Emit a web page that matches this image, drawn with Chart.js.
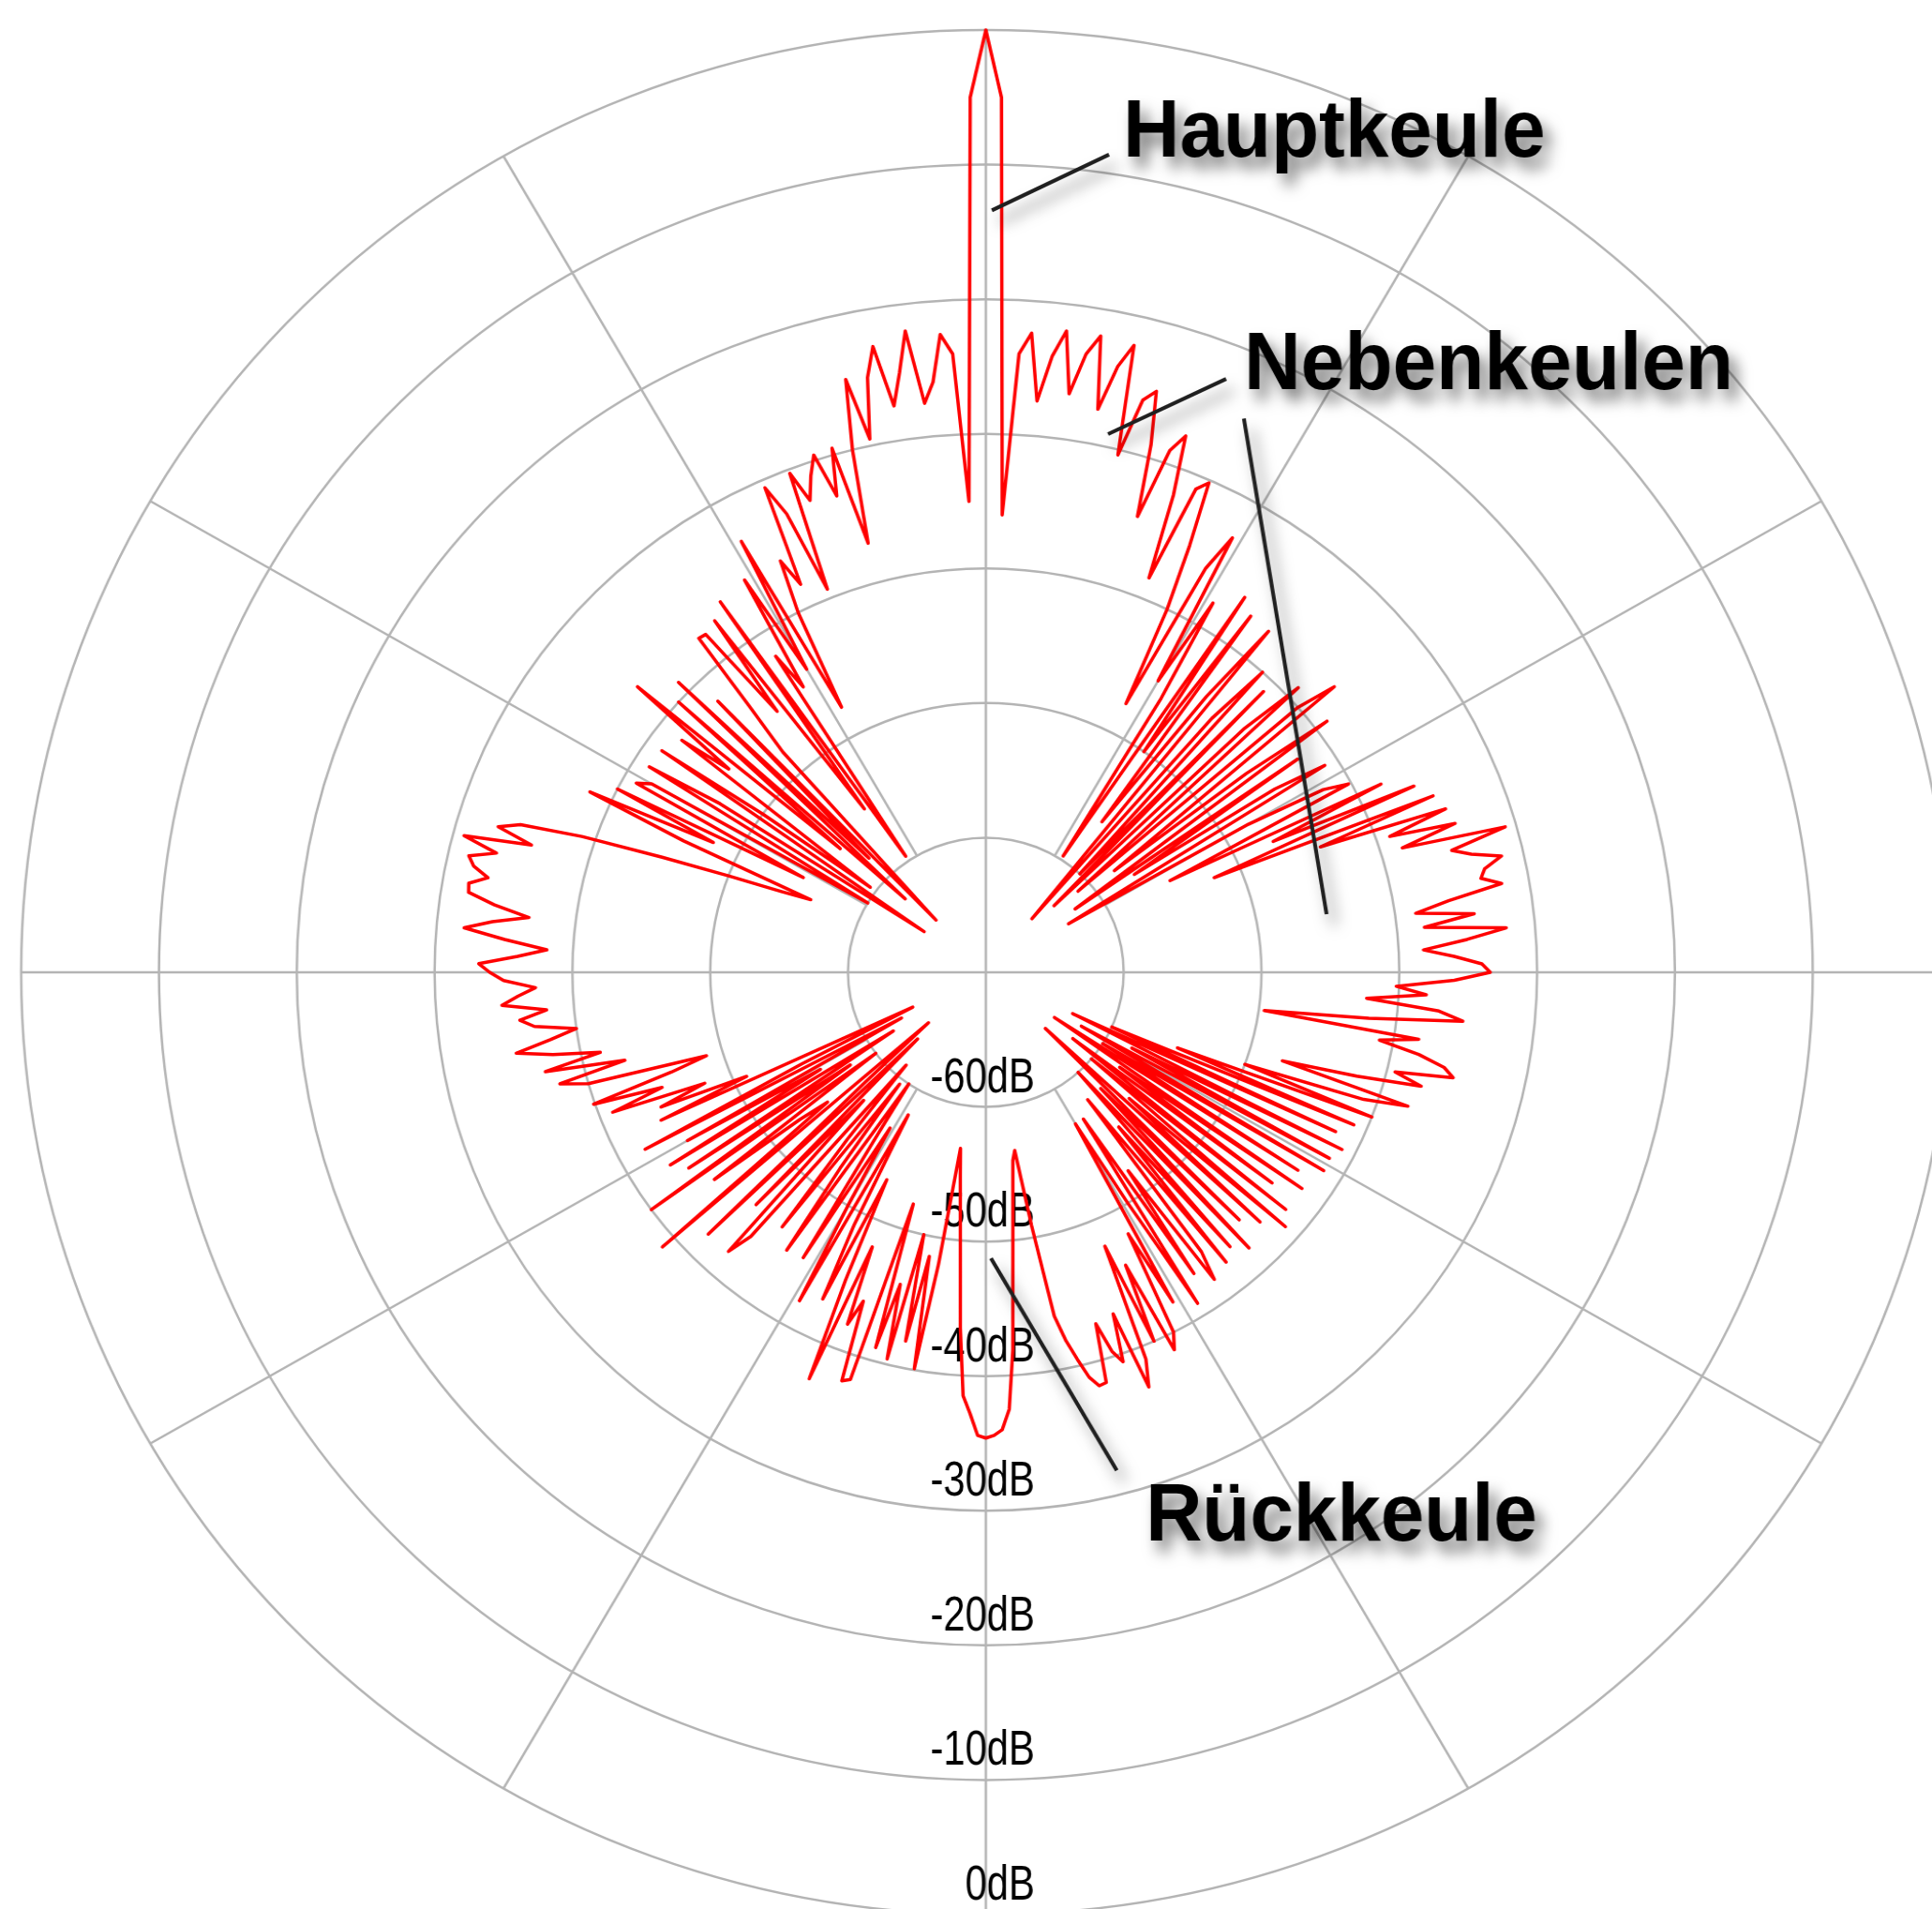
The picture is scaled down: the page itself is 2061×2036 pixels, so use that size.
<!DOCTYPE html>
<html>
<head>
<meta charset="utf-8">
<title>Richtdiagramm</title>
<script src="https://cdn.jsdelivr.net/npm/chart.js@4.4.0/dist/chart.umd.min.js"></script>
<style>
  html, body { margin: 0; padding: 0; background: #fff; overflow: hidden; }
  /* das Original ist leicht in die Breite gezogen */
  #box { position: absolute; left: 0; top: 0; width: 2100px; height: 2100px; transform: scaleX(1.024); transform-origin: 0 0; }
</style>
</head>
<body>
<div id="box"><canvas id="diagramm"></canvas></div>
<script>
// Pegel in dB, je ein Wert pro Grad, im Uhrzeigersinn ab oben
const gain000 = [0, -5, -36, -24, -22.4, -27.4, -24, -22, -26.6, -23.5,
  -22, -27.4, -24, -22.2, -30.4, -26, -25.1, -29, -34.4, -29,
  -27.6, -32, -38.4, -31, -30.2, -35, -40, -47.6, -36, -33.1];
const gain030 = [-45, -38, -46, -59.7, -36.4, -50, -37.3, -56, -44, -37.4,
  -64.8, -45, -40, -60, -41, -63, -44, -39, -61, -40,
  -37, -58, -46, -39, -62, -42.4, -57, -45, -41, -63];
const gain060 = [-48, -42, -40.2, -55, -38.1, -47, -36, -52, -35, -44,
  -34.5, -39, -34.2, -38.4, -30.8, -35, -33.7, -31.6, -33, -33.4,
  -32, -36, -38.5, -34.3, -38, -32.1, -35, -38.2, -36, -34];
const gain090 = [-33.4, -36, -40.2, -38, -42.3, -37, -35.2, -42, -49.6, -38.2,
  -41, -38, -36, -35.2, -39.4, -37.3, -42, -47.5, -37.8, -41,
  -50, -40, -55, -41, -60, -42, -63, -41, -58, -41.5];
const gain120 = [-62, -41.4, -60, -43, -64, -42, -58, -44, -62, -42,
  -60, -41.2, -56, -42.8, -64, -44, -58, -42, -60, -43,
  -55, -42.3, -58, -44, -41.8, -52, -43, -57, -41, -50];
const gain150 = [-57, -42, -48, -40, -38.8, -46, -40, -47.9, -39, -37,
  -43, -39.4, -40.4, -42.7, -38.3, -38.2, -39, -40.5, -42, -44,
  -50.9, -56.6, -55.9, -53.9, -51.2, -47.5, -41.9, -37.5, -36, -35.6];
const gain180 = [-35.4, -35.6, -37.2, -38.5, -43.5, -48.8, -52.3, -54.8, -56.8, -48,
  -40.1, -48.5, -42, -50, -40.4, -46, -41, -52, -38.2, -37.9,
  -44, -42, -48, -37.2, -45, -53, -43, -49, -58, -42.1];
const gain210 = [-50, -56.5, -45, -55, -60, -44.8, -52, -59.6, -46, -54,
  -61, -44, -42.1, -57, -46, -63, -42, -58, -64.4, -38.9,
  -55, -52.6, -45, -60, -40, -58, -44, -62, -43, -56];
const gain240 = [-45, -63, -42, -55, -64.1, -44, -51, -44.4, -48, -41,
  -45, -39.9, -46, -48.8, -40, -38, -43, -37.2, -41.4, -38,
  -35.4, -38, -40, -37, -36, -38, -34.8, -36, -37.3, -35];
const gain270 = [-34, -33.2, -36, -38.1, -35, -32, -34, -36.6, -34, -32,
  -31.9, -33.2, -32, -31.5, -33.4, -30.8, -35.7, -33, -34.5, -39,
  -45, -50, -54, -56.2, -46, -38.3, -48, -40, -55, -41];
const gain300 = [-42, -60, -41.2, -47, -64.6, -41.3, -50, -59.5, -42, -46,
  -37, -56, -40, -62, -39, -58, -42, -64.7, -48, -44,
  -37.6, -37.7, -45.4, -37.3, -55, -36.4, -59.6, -42, -45, -36];
const gain330 = [-44, -33.4, -47.7, -40, -36, -38.2, -30.6, -33, -39.3, -30.3,
  -32.7, -31, -29.6, -33, -29.5, -37, -30, -24.8, -29.5, -25,
  -22.8, -27.4, -25, -22, -27.5, -26, -22.5, -24, -35, -5];

// Ringe der Skala
const ringWerte = [-60, -50, -40, -30, -20, -10, 0];
const ringTexte = ['-60dB', '-50dB', '-40dB', '-30dB', '-20dB', '-10dB', '0dB'];

const pegel = [].concat(gain000, gain030, gain060, gain090, gain120, gain150,
  gain180, gain210, gain240, gain270, gain300, gain330);
const winkel = [];
for (let i = 0; i < pegel.length; i++) winkel.push(i);

const gitterFarbe = '#b4b4b4';

// Beschriftungen: Position als [Winkel, dB]
const hinweise = [
  { text: 'Hauptkeule', pos: [9.33, -8.59], breite: 440,
    linien: [[[8.37, -8.6], [0.44, -13.4]]] },
  { text: 'Nebenkeulen', pos: [23.38, -22.8], breite: 510,
    linien: [[[21.58, -22.6], [12.5, -29.05]], [[24.47, -24.8], [80.1, -44.9]]] },
  { text: 'Rückkeule', pos: [164.65, -26.2], breite: 408,
    linien: [[[165.6, -31.8], [179.0, -48.75]]] }
];

const skalaExtras = {
  id: 'skalaExtras',
  beforeDatasetsDraw(chart) {
    const ctx = chart.ctx;
    const r = chart.scales.r;
    ctx.save();
    // schraege Speichen beginnen erst am ersten Ring
    ctx.strokeStyle = gitterFarbe;
    ctx.lineWidth = 2.5;
    [30, 60, 120, 150, 210, 240, 300, 330].forEach(function (w) {
      const a = r.getPointPositionForValue(w, -60);
      const b = r.getPointPositionForValue(w, 0);
      ctx.beginPath();
      ctx.moveTo(a.x, a.y);
      ctx.lineTo(b.x, b.y);
      ctx.stroke();
    });
    // dB-Beschriftung nach unten
    ctx.font = '51px "Liberation Sans", Arial, sans-serif';
    ctx.fillStyle = '#000';
    ctx.textAlign = 'right';
    ctx.textBaseline = 'alphabetic';
    ringWerte.forEach(function (v, i) {
      const y = r.yCenter + r.getDistanceFromCenterForValue(v) - 16;
      const w = ctx.measureText(ringTexte[i]).width * 0.8;
      ctx.fillText(ringTexte[i], r.xCenter + 51, y, w);
    });
    ctx.restore();
  },
  afterDraw(chart) {
    const ctx = chart.ctx;
    const r = chart.scales.r;
    ctx.save();
    ctx.shadowColor = 'rgba(0, 0, 0, 0.55)';
    ctx.shadowBlur = 16;
    ctx.shadowOffsetX = 8;
    ctx.shadowOffsetY = 12;
    ctx.strokeStyle = '#202020';
    ctx.lineWidth = 4;
    ctx.font = 'bold 88px "Liberation Sans", Arial, sans-serif';
    ctx.fillStyle = '#000';
    ctx.textAlign = 'left';
    ctx.textBaseline = 'alphabetic';
    hinweise.forEach(function (h) {
      h.linien.forEach(function (l) {
        const a = r.getPointPositionForValue(l[0][0], l[0][1]);
        const b = r.getPointPositionForValue(l[1][0], l[1][1]);
        ctx.beginPath();
        ctx.moveTo(a.x, a.y);
        ctx.lineTo(b.x, b.y);
        ctx.stroke();
      });
      const p = r.getPointPositionForValue(h.pos[0], h.pos[1]);
      ctx.fillText(h.text, p.x, p.y, h.breite);
    });
    ctx.restore();
  }
};

new Chart(document.getElementById('diagramm'), {
  type: 'radar',
  data: {
    labels: winkel,
    datasets: [{
      data: pegel,
      borderColor: '#ff0000',
      borderWidth: 3.5,
      borderJoinStyle: 'round',
      pointRadius: 0,
      fill: false,
      tension: 0
    }]
  },
  options: {
    responsive: true,
    maintainAspectRatio: false,
    animation: false,
    layout: { padding: { left: 22, top: 32, right: 68, bottom: 58 } },
    plugins: {
      legend: { display: false },
      tooltip: { enabled: false }
    },
    scales: {
      r: {
        min: -70,
        max: 0,
        ticks: { stepSize: 10, display: false },
        grid: { circular: true, color: gitterFarbe, lineWidth: 2.5 },
        angleLines: {
          display: true,
          color: gitterFarbe,
          lineWidth: function (c) { return c.index % 90 === 0 ? 2.5 : 0; }
        },
        pointLabels: { display: false }
      }
    }
  },
  plugins: [skalaExtras]
});
</script>
</body>
</html>
